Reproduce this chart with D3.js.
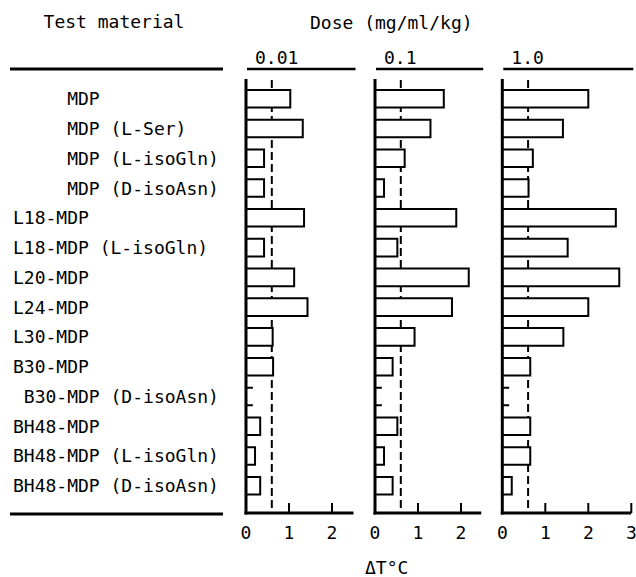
<!DOCTYPE html>
<html><head><meta charset="utf-8">
<script src="https://cdn.jsdelivr.net/npm/d3@7"></script>
<style>
body{margin:0;background:#fff}
text{font-family:"DejaVu Sans Mono",monospace;fill:#000;white-space:pre}
</style>
</head><body>
<svg id="c" width="636" height="577"></svg>
<script>
// ---- data ----
const materials = [
  "     MDP",
  "     MDP (L-Ser)",
  "     MDP (L-isoGln)",
  "     MDP (D-isoAsn)",
  "L18-MDP",
  "L18-MDP (L-isoGln)",
  "L20-MDP",
  "L24-MDP",
  "L30-MDP",
  "B30-MDP",
  " B30-MDP (D-isoAsn)",
  "BH48-MDP",
  "BH48-MDP (L-isoGln)",
  "BH48-MDP (D-isoAsn)"
];
const doseLabels = ["0.01", "0.1", "1.0"];
const dose001 = [1.03, 1.32, 0.42, 0.42, 1.35, 0.42, 1.12, 1.43, 0.62, 0.63, 0, 0.33, 0.21, 0.33];
const dose01  = [1.60, 1.29, 0.69, 0.21, 1.89, 0.52, 2.18, 1.79, 0.92, 0.41, 0, 0.52, 0.21, 0.41];
const dose1   = [2.00, 1.41, 0.71, 0.61, 2.64, 1.52, 2.72, 2.00, 1.42, 0.65, 0, 0.65, 0.65, 0.22];
const threshold = 0.6;
const axisMax = [2.5, 2.47, 3.0];
const tickValues = [[0, 1, 2], [0, 1, 2], [0, 1, 2, 3]];
const headerTitle = "Test material";
const doseTitle = "Dose (mg/ml/kg)";
const xTitle = "\u0394T\u00B0C";

// ---- layout ----
const svg = d3.select("#c");
const FS = 18;
const panelX0 = [246, 375, 502.3];
const unit = 43;
const yTop = 79, yBase = 513;
const series = [dose001, dose01, dose1];

const y = d3.scaleBand().domain(d3.range(materials.length))
  .range([77.8, 506.7]).paddingInner(0.41).paddingOuter(0.41);

// titles
svg.append("text").attr("x", 114).attr("y", 28).attr("text-anchor", "middle")
  .attr("font-size", FS).text(headerTitle);
svg.append("text").attr("x", 310).attr("y", 29)
  .attr("font-size", FS).text(doseTitle);
svg.append("text").attr("x", 365).attr("y", 574)
  .attr("font-size", FS).text(xTitle);

// left rules
svg.append("line").attr("x1", 10).attr("x2", 223).attr("y1", 69).attr("y2", 69)
  .attr("stroke", "#000").attr("stroke-width", 3);
svg.append("line").attr("x1", 10).attr("x2", 223).attr("y1", yBase + 1).attr("y2", yBase + 1)
  .attr("stroke", "#000").attr("stroke-width", 3);

// labels
svg.append("g").selectAll("text").data(materials).join("text")
  .attr("x", 13)
  .attr("y", (d, i) => y(i) + y.bandwidth() / 2)
  .attr("dy", "0.36em")
  .attr("font-size", FS)
  .attr("xml:space", "preserve")
  .text(d => d);

series.forEach((vals, p) => {
  const x = d3.scaleLinear().domain([0, 1]).range([panelX0[p], panelX0[p] + unit]);
  const g = svg.append("g");

  // header line + dose label
  g.append("line").attr("x1", x(0) + 1).attr("x2", Math.min(636, x(axisMax[p]) + 2))
    .attr("y1", 69).attr("y2", 69).attr("stroke", "#000").attr("stroke-width", 2.5);
  g.append("text").attr("x", x(0) + 9).attr("y", 64).attr("font-size", FS).text(doseLabels[p]);

  // threshold dashed line
  g.append("line").attr("x1", x(threshold)).attr("x2", x(threshold))
    .attr("y1", yTop + 1).attr("y2", yBase)
    .attr("stroke", "#000").attr("stroke-width", 2).attr("stroke-dasharray", "8,4");

  // bars (open on the axis side)
  g.selectAll("path.bar").data(vals).join("path")
    .attr("class", "bar")
    .attr("stroke", "#000").attr("stroke-width", 2)
    .attr("d", (v, i) => {
      const y0 = y(i), y1 = y(i) + y.bandwidth();
      if (v <= 0) {
        const xe = x(0.16);
        return `M${x(0)},${y0}H${xe}M${x(0)},${y1}H${xe}`;
      }
      return `M${x(0)},${y0}H${x(v)}V${y1}H${x(0)}`;
    })
    .attr("fill", (v) => v <= 0 ? "none" : "#fff");

  // axes
  g.append("line").attr("x1", x(0)).attr("x2", x(0)).attr("y1", yTop).attr("y2", yBase + 1.5)
    .attr("stroke", "#000").attr("stroke-width", 3);
  g.append("line").attr("x1", x(0) - 1.5).attr("x2", x(axisMax[p])).attr("y1", yBase).attr("y2", yBase)
    .attr("stroke", "#000").attr("stroke-width", 3);

  const ticks = tickValues[p];
  g.selectAll("line.tick").data(ticks.filter(t => t > 0)).join("line")
    .attr("class", "tick")
    .attr("x1", d => x(d)).attr("x2", d => x(d))
    .attr("y1", yBase - 10).attr("y2", yBase)
    .attr("stroke", "#000").attr("stroke-width", 2);
  g.selectAll("text.tl").data(ticks).join("text")
    .attr("class", "tl")
    .attr("x", d => x(d)).attr("y", 539)
    .attr("text-anchor", "middle").attr("font-size", FS)
    .text(d => String(d));
});
</script>
</body></html>
